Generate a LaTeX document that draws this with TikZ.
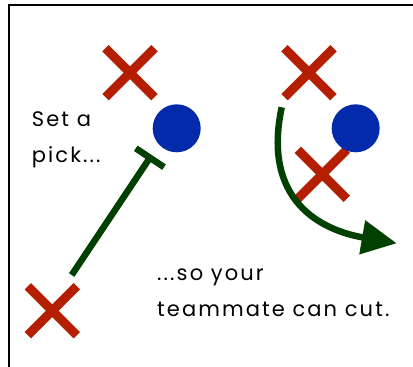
\documentclass[tikz,border=0pt]{standalone}
\usepackage{fontspec}
\newfontfamily\handfont[LetterSpace=10]{Poppins}
\usetikzlibrary{shapes.misc,arrows.meta}
\definecolor{crossred}{HTML}{B31F00}
\definecolor{dotblue}{HTML}{032AAB}
\definecolor{pathgreen}{HTML}{004000}

\begin{document}
\begin{tikzpicture}[x=1pt,y=-1pt,
  defender/.style={cross out,draw=crossred,line width=9pt,minimum size=40pt,inner sep=0pt},
  player/.style={circle,fill=dotblue,minimum size=48pt,inner sep=0pt},
  move/.style={draw=pathgreen,line width=6.5pt},
  note/.style={font=\handfont\fontsize{21}{36}\selectfont,align=left,anchor=base west,inner sep=0pt}]
\useasboundingbox (0,0) rectangle (413,367);
\draw[line width=2.5pt] (9,372) -- (9,5) -- (418,5);
\node[defender] (xa) at (130,72.7) {};
\node[defender] (xb) at (309,72.7) {};
\node[defender] (xc) at (322.3,174.3) {};
\node[defender] (xd) at (52.3,310.7) {};
\node[player] (oa) at (176.7,128.3) {};
\node[player] (ob) at (355.7,128.3) {};
\coordinate (pickfrom) at (71.7,275);
\coordinate (pickto) at (151.7,155);
\coordinate (cutfrom) at (281.7,107.3);
\coordinate (cutto) at (396.7,243.3);
\draw[move,-{Bar[width=34pt]}] (pickfrom) -- (pickto);
\draw[move,-{Triangle[length=35pt,width=33pt]}] (cutfrom) .. controls (262,200) and (320,230) .. (cutto);
\node[note] (picknote) at (31.7,162) {Set a\\pick...};
\node[note] (cutnote) at (157,316.7) {...so your\\teammate can cut.};
\end{tikzpicture}
\end{document}
